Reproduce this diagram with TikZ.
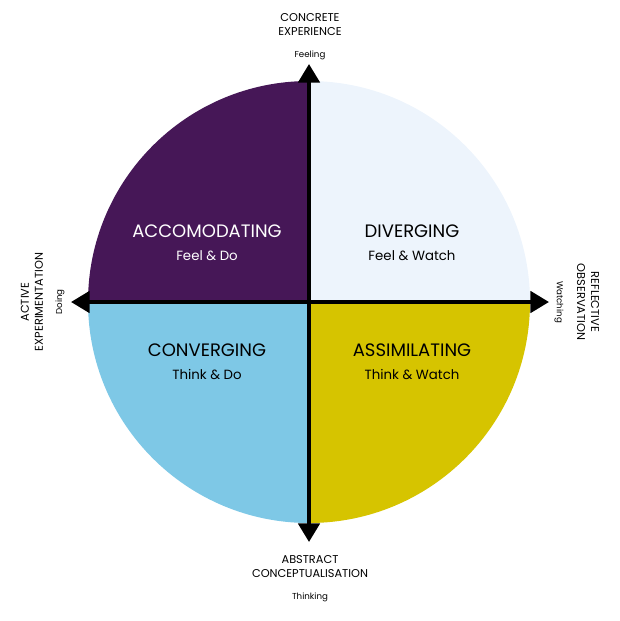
\documentclass[tikz,border=0pt]{standalone}
\usepackage{fontspec}
\setmainfont{Poppins}
\usetikzlibrary{arrows.meta}
\definecolor{cpurple}{HTML}{461757}
\definecolor{clight}{HTML}{EDF4FC}
\definecolor{cblue}{HTML}{7EC8E6}
\definecolor{cyellow}{HTML}{D6C400}
\begin{document}
\begin{tikzpicture}[x=0.75pt,y=-0.75pt,
  big/.style={font=\fontsize{13.5}{15}\selectfont},
  sub/.style={font=\fontsize{10}{12}\selectfont},
  axis/.style={font=\fontsize{8.5}{10.5}\selectfont, align=center},
  tiny/.style={font=\fontsize{6.5}{8}\selectfont},
  ax/.style={line width=3pt,-{Triangle[length=14pt,width=16pt]}}]
\useasboundingbox (0,0) rectangle (620,621);
\coordinate (c) at (309,302);
\fill[cpurple] (c) -- (88,302) arc[start angle=180,end angle=270,radius=221] -- cycle;
\fill[clight] (c) -- (309,81) arc[start angle=270,end angle=360,radius=221] -- cycle;
\fill[cyellow] (c) -- (530,302) arc[start angle=0,end angle=90,radius=221] -- cycle;
\fill[cblue] (c) -- (309,523) arc[start angle=90,end angle=180,radius=221] -- cycle;
\coordinate (t) at (309,64);
\coordinate (b) at (309,542);
\coordinate (l) at (71,302);
\coordinate (r) at (549,302);
\draw[ax] (c) -- (t);
\draw[ax] (c) -- (b);
\draw[ax] (c) -- (l);
\draw[ax] (c) -- (r);
\node[big,white] (n1) at (207,231) {ACCOMODATING};
\node[sub,white] (s1) at (207,256) {Feel \& Do};
\node[big,black] (n2) at (412,231) {DIVERGING};
\node[sub,black] (s2) at (412,256) {Feel \& Watch};
\node[big,black] (n3) at (207,350) {CONVERGING};
\node[sub,black] (s3) at (207,375) {Think \& Do};
\node[big,black] (n4) at (412,350) {ASSIMILATING};
\node[sub,black] (s4) at (412,375) {Think \& Watch};
\node[axis] (a1) at (310,25) {CONCRETE\\EXPERIENCE};
\node[tiny] (a1s) at (310,55) {Feeling};
\node[axis] (a2) at (310,567) {ABSTRACT\\CONCEPTUALISATION};
\node[tiny] (a2s) at (310,597) {Thinking};
\node[axis,rotate=90] (a3) at (32,302) {ACTIVE\\EXPERIMENTATION};
\node[tiny,rotate=90] (a3s) at (60,302) {Doing};
\node[axis,rotate=-90] (a4) at (588,302) {REFLECTIVE\\OBSERVATION};
\node[tiny,rotate=-90] (a4s) at (559,302) {Watching};
\end{tikzpicture}
\end{document}
